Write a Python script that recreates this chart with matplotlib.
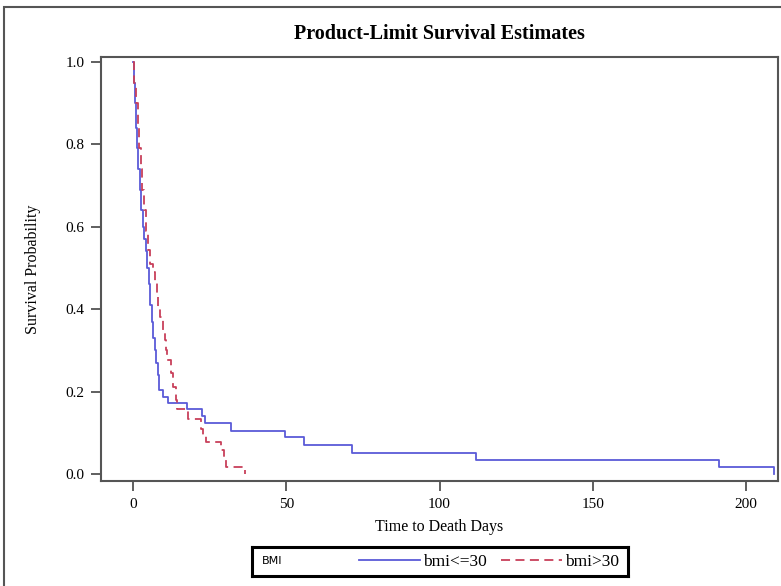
import numpy as np
import matplotlib
matplotlib.use("Agg")
import matplotlib.pyplot as plt
from matplotlib.lines import Line2D
from matplotlib.patches import Rectangle

plt.rcParams['font.family'] = ['Liberation Serif', 'DejaVu Serif']

# Kaplan-Meier estimates (time in days, survival after event)
blue_t = [0, 0.3, 0.6, 1.0, 1.4, 1.8, 2.2, 2.7, 3.2, 3.7, 4.2, 4.7, 5.2, 5.7, 6.2, 6.7,
          7.2, 7.6, 8.1, 8.6, 9.9, 11.5, 17.6, 22.4, 23.5, 31.9, 49.6, 55.8, 71.4, 112, 191, 209]
blue_s = [1.0, 0.95, 0.90, 0.84, 0.79, 0.74, 0.69, 0.64, 0.60, 0.57, 0.54, 0.50, 0.46, 0.41,
          0.37, 0.33, 0.30, 0.27, 0.24, 0.204, 0.188, 0.173, 0.157, 0.141, 0.123, 0.105, 0.089,
          0.070, 0.052, 0.034, 0.018, 0.0]

red_t = [0, 0.4, 1.0, 1.6, 2.1, 2.6, 3.1, 3.7, 4.3, 5.0, 5.7, 6.4, 7.2, 7.8, 8.3, 9.0, 9.7,
         10.4, 10.8, 11.2, 12.3, 13.1, 14.0, 14.5, 18.0, 22.2, 23.0, 24.0, 28.7, 29.6, 30.4, 36.5]
red_s = [1.0, 0.95, 0.90, 0.85, 0.79, 0.74, 0.69, 0.64, 0.59, 0.544, 0.51, 0.49, 0.463, 0.43,
         0.406, 0.38, 0.35, 0.325, 0.30, 0.277, 0.244, 0.21, 0.18, 0.157, 0.133, 0.11, 0.095,
         0.078, 0.058, 0.04, 0.016, 0.0]

group_labels = ['bmi<=30', 'bmi>30']
legend_title = 'BMI'
x_ticks = [0, 50, 100, 150, 200]
y_ticks = [0.0, 0.2, 0.4, 0.6, 0.8, 1.0]

blue = '#5a5ad8'
red = '#c8405a'

fig = plt.figure(figsize=(7.81, 5.86), dpi=100)

# cadre exterieur
fig.patches.append(Rectangle((4/781, -0.1), 1.2, 1 - 7/586 + 0.1, transform=fig.transFigure,
                             fill=False, edgecolor='#555555', lw=1.5))

ax = fig.add_axes([101/781, 1 - 481/586, 677/781, 424/586])
ax.plot(blue_t, blue_s, drawstyle='steps-post', color=blue, lw=1.3)
ax.plot(red_t, red_s, drawstyle='steps-post', color=red, lw=1.3, dashes=(5, 3))

ax.set_xlim(-10.4, 210.4)
ax.set_ylim(-0.017, 1.012)
ax.set_xticks(x_ticks)
ax.set_yticks(y_ticks)
ax.set_yticklabels(['%.1f' % v for v in y_ticks])
ax.tick_params(labelsize=11, length=7, width=1.2, color='#444444', pad=5)
for s in ax.spines.values():
    s.set_color('#555555')
    s.set_linewidth(1.5)

ax.set_title('Product-Limit Survival Estimates', fontsize=14.5, fontweight='bold', pad=13)
ax.set_xlabel('Time to Death Days', fontsize=11.5)
ax.set_ylabel('Survival Probability', fontsize=11.5)
ax.xaxis.set_label_coords(0.5, -(519 - 481) / 424)
ax.yaxis.set_label_coords(-(101 - 41) / 677, 0.5)

# legende dans une boite
lax = fig.add_axes([252/781, 1 - 576/586, 376/781, 29/586])
lax.set_xticks([])
lax.set_yticks([])
for s in lax.spines.values():
    s.set_color('black')
    s.set_linewidth(2.2)
lax.text(0.027, 0.5, legend_title, family='DejaVu Sans', fontsize=8, va='center', ha='left',
         transform=lax.transAxes)
handles = [Line2D([], [], color=blue, lw=1.3),
           Line2D([], [], color=red, lw=1.3, dashes=(5, 3))]
lax.legend(handles, group_labels, ncol=2, loc='center right', frameon=False, fontsize=12.5,
           handlelength=3.5, handletextpad=0.2, columnspacing=0.8, borderaxespad=0.1)

fig.savefig('out.png', dpi=100)
